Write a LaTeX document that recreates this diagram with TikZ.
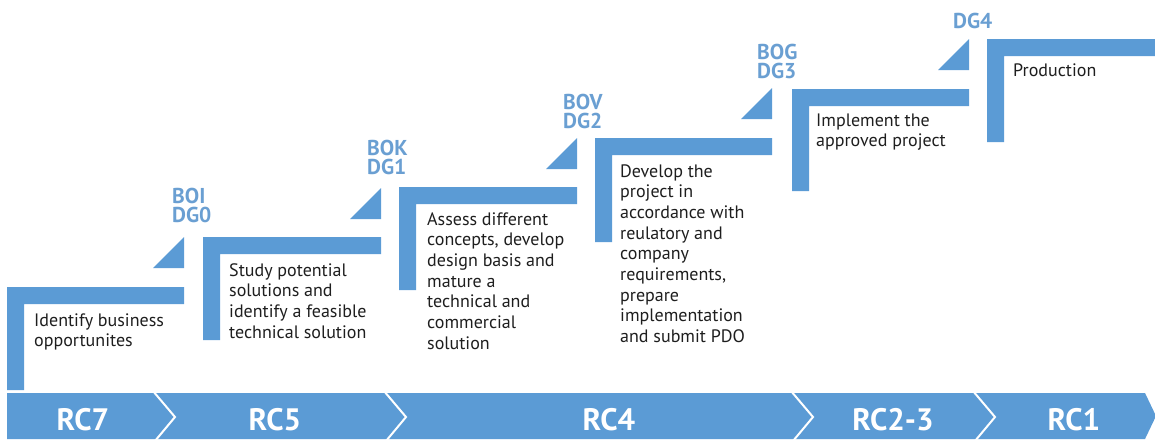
\documentclass[tikz,border=0pt]{standalone}
\usepackage{fontspec}
\setmainfont{PT Sans}
\definecolor{stepblue}{HTML}{5B9BD5}
\definecolor{labelblue}{HTML}{6A9FD2}
\definecolor{bodytext}{HTML}{1E1E1E}
\tikzset{
  shapefill/.style={fill=stepblue, draw=none},
  steptext/.style={anchor=base west, inner sep=0pt, text=bodytext, font=\fontsize{18}{20.7}\selectfont},
  gatelabel/.style={anchor=base west, inner sep=0pt, text=labelblue, font=\fontsize{21.5}{19.7}\selectfont\bfseries},
  rclabel/.style={anchor=base, inner sep=0pt, text=white, font=\fontsize{31}{32}\selectfont\bfseries},
  sepline/.style={draw=white, line width=2pt, line join=miter}
}
\newcommand{\Lshape}[4]{% left x, top y, right x, bottom y
  \fill[shapefill] (#1,#2) -- (#3,#2) -- (#3,#2+17) -- (#1+17,#2+17) -- (#1+17,#4) -- (#1,#4) -- cycle;}
\newcommand{\Tri}[2]{% right x, top y
  \fill[shapefill] (#1,#2) -- (#1,#2+31) -- (#1-31,#2+31) -- cycle;}
\begin{document}
\begin{tikzpicture}[x=1pt,y=-1pt]
\useasboundingbox (0,0) rectangle (1155,439);
% steps
\Lshape{7}{287}{184}{390}
\Lshape{203}{237}{381}{340}
\Lshape{399}{187}{577}{290}
\Lshape{595}{138}{772}{242}
\Lshape{792}{89}{969}{191}
\Lshape{987}{39}{1155}{142}
% triangles
\Tri{184}{237}
\Tri{381}{188}
\Tri{577}{138}
\Tri{772}{88}
\Tri{969}{39}
% gate labels
\node[gatelabel] (g0) at (172,203) {\parbox[t]{80pt}{\raggedright BOI\\DG0}};
\node[gatelabel] (g1) at (367,155) {\parbox[t]{80pt}{\raggedright BOK\\DG1}};
\node[gatelabel] (g2) at (563,109) {\parbox[t]{80pt}{\raggedright BOV\\DG2}};
\node[gatelabel] (g3) at (757,59) {\parbox[t]{80pt}{\raggedright BOG\\DG3}};
\node[gatelabel] (g4) at (953,28) {DG4};
% step texts
\node[steptext] (s1) at (34,326) {\parbox[t]{200pt}{\raggedright Identify business\\opportunites}};
\node[steptext] (s2) at (229,276) {\parbox[t]{200pt}{\raggedright Study potential\\solutions and\\identify a feasible\\technical solution}};
\node[steptext] (s3) at (427,225) {\parbox[t]{200pt}{\raggedright Assess different\\concepts, develop\\design basis and\\mature a\\technical and\\commercial\\solution}};
\node[steptext] (s4) at (620,177) {\parbox[t]{200pt}{\raggedright Develop the\\project in\\accordance with\\reulatory and\\company\\requirements,\\prepare\\implementation\\and submit PDO}};
\node[steptext] (s5) at (816,126) {\parbox[t]{200pt}{\raggedright Implement the\\approved project}};
\node[steptext] (s6) at (1013,76) {Production};
% bottom bar
\fill[shapefill] (7,393) -- (1145,393) -- (1156,416) -- (1145,439) -- (7,439) -- cycle;
\foreach \sx in {153,384,791,973}{
  \draw[sepline] (\sx,391) -- (\sx+22,417) -- (\sx+2,441);
}
\node[rclabel] (r7) at (83,430) {RC7};
\node[rclabel] (r5) at (275,430) {RC5};
\node[rclabel] (r4) at (609,430) {RC4};
\node[rclabel] (r23) at (893,430) {RC2-3};
\node[rclabel] (r1) at (1074,430) {RC1};
\end{tikzpicture}
\end{document}
